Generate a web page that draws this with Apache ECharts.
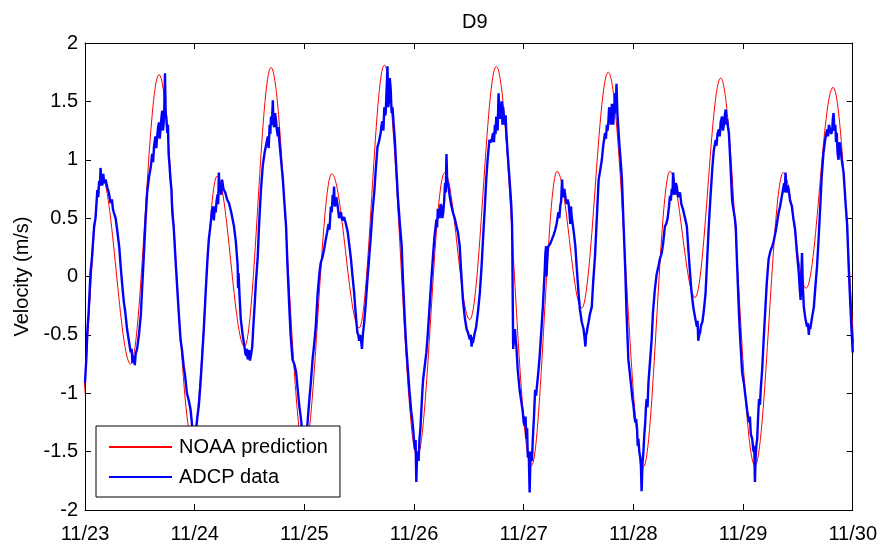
<!DOCTYPE html>
<html>
<head>
<meta charset="utf-8">
<script src="https://cdn.jsdelivr.net/npm/echarts@6/dist/echarts.min.js"></script>
<style>html,body{margin:0;padding:0;background:#fff}#c{width:880px;height:548px}</style>
</head>
<body>
<div id="c"></div>
<script>
// ---- data (x in hours since 11/23 00:00, velocity in m/s) ----
const xTickLabels = ['11/23', '11/24', '11/25', '11/26', '11/27', '11/28', '11/29', '11/30'];
const yTickLabels = ['-2', '-1.5', '-1', '-0.5', '0', '0.5', '1', '1.5', '2'];

// NOAA prediction: turning points (max flood / max ebb)
const redHours = [-8.5, -1.5, 3.6, 10.0, 16.2, 23.5, 28.9, 34.9, 40.7, 48.0, 54.0, 60.0, 65.5, 72.7, 78.7, 84.2, 90.0, 97.7, 103.3, 108.7, 114.5, 122.2, 128.0, 133.5, 139.1, 146.6, 152.8, 157.8, 163.7, 171.0, 177.0];
const redVel   = [1.7, -1.3, 0.86, -0.75, 1.73, -1.4, 0.86, -0.6, 1.79, -1.5, 0.88, -0.44, 1.81, -1.54, 0.89, -0.37, 1.80, -1.62, 0.90, -0.27, 1.75, -1.63, 0.90, -0.18, 1.70, -1.62, 0.89, -0.10, 1.62, -1.6, 0.9];

const adcpPoints = [
[0.0,-0.91],[0.3,-0.7],[0.5,-0.48],[0.8,-0.3],[1.2,0.03],[1.5,0.15],[2.0,0.43],[2.3,0.5],[2.7,0.74],[2.9,0.68],[3.1,0.82],[3.3,0.78],[3.4,0.93],[3.6,0.8],[3.8,0.78],[4.0,0.88],[4.2,0.8],[4.5,0.83],[4.9,0.76],[5.2,0.72],[5.6,0.63],[5.9,0.66],[6.1,0.58],[6.3,0.55],[6.7,0.5],[7.1,0.38],[7.5,0.25],[7.8,0.09],[8.1,-0.05],[8.5,-0.22],[8.8,-0.3],[9.2,-0.45],[9.6,-0.55],[10.0,-0.65],[10.2,-0.62],[10.4,-0.74],[10.7,-0.68],[10.9,-0.76],[11.1,-0.66],[11.4,-0.62],[11.8,-0.5],[12.2,-0.34],[12.5,-0.1],[12.9,0.2],[13.2,0.45],[13.6,0.72],[14.0,0.85],
[14.4,0.94],[14.7,1.05],[14.9,0.98],[15.1,1.11],[15.4,1.2],[15.6,1.1],[15.8,1.2],[16.0,1.28],[16.2,1.32],[16.35,1.18],[16.5,1.25],[16.7,1.35],[16.9,1.42],[17.05,1.25],[17.2,1.3],[17.35,1.45],[17.5,1.74],[17.65,1.4],[17.8,1.36],[18.0,1.23],[18.15,1.3],[18.3,1.05],[18.5,0.95],[18.7,0.83],[18.9,0.75],[19.1,0.55],[19.4,0.43],[19.8,0.15],[20.2,-0.11],[20.5,-0.3],[20.9,-0.54],[21.2,-0.62],[21.6,-0.77],[21.9,-0.85],[22.3,-1.0],[22.7,-1.06],[23.1,-1.14],[23.5,-1.3],[23.9,-1.45],[24.3,-1.32],[24.6,-1.2],[24.9,-1.11],[25.3,-0.9],[25.6,-0.71],[26.0,-0.45],[26.4,-0.14],[26.8,0.15],[27.1,0.32],[27.5,0.45],[27.8,0.57],[28.0,0.6],[28.2,0.48],[28.4,0.6],[28.6,0.55],[28.8,0.65],[29.0,0.7],[29.15,0.62],[29.3,0.89],[29.45,0.72],[29.6,0.78],[29.8,0.7],[30.0,0.83],[30.3,0.75],[30.7,0.72],[31.1,0.66],[31.5,0.63],[32.0,0.55],[32.6,0.43],[33.0,0.3],[33.4,0.1],[33.5,-0.1],[33.6,0.03],[33.8,-0.15],[34.1,-0.37],[34.5,-0.5],[34.9,-0.6],[35.1,-0.66],[35.3,-0.68],[35.45,-0.62],[35.6,-0.71],[35.9,-0.63],[36.1,-0.72],[36.3,-0.68],[36.6,-0.6],[36.8,-0.45],[37.1,-0.26],[37.4,-0.05],[37.8,0.17],[38.1,0.45],[38.5,0.74],[38.9,0.95],[39.3,1.06],[39.6,1.12],[40.0,1.2],[40.2,1.1],[40.4,1.3],[40.55,1.22],[40.7,1.37],[40.9,1.3],[41.1,1.51],[41.25,1.3],[41.4,1.28],[41.6,1.4],[41.8,1.34],[42.0,1.25],[42.2,1.2],[42.35,1.28],[42.5,1.17],[42.9,1.0],[43.3,0.83],[43.6,0.65],[44.0,0.43],[44.3,0.1],[44.7,-0.26],[45.0,-0.5],[45.4,-0.71],[45.8,-0.75],[46.2,-0.82],[46.5,-0.95],[46.9,-1.11],[47.2,-1.2],[47.6,-1.35],[48.1,-1.55],[48.6,-1.3],[49.1,-1.05],[49.4,-0.92],[49.8,-0.71],[50.1,-0.6],[50.5,-0.43],[50.9,-0.15],[51.3,0.03],[51.6,0.12],[52.0,0.17],[52.4,0.25],[52.7,0.32],[53.0,0.38],[53.3,0.45],[53.5,0.4],[53.8,0.6],[54.0,0.55],[54.2,0.7],[54.35,0.62],[54.5,0.77],[54.65,0.6],[54.8,0.62],[55.0,0.68],[55.3,0.6],[55.6,0.5],[56.0,0.55],[56.3,0.48],[56.7,0.51],[57.1,0.45],[57.5,0.38],[57.8,0.28],[58.2,0.15],[58.5,0.02],[58.9,-0.14],[59.2,-0.3],[59.6,-0.48],[59.8,-0.5],[60.0,-0.55],[60.2,-0.5],[60.4,-0.54],[60.6,-0.62],[60.8,-0.5],[61.1,-0.39],[61.4,-0.25],[61.8,-0.03],[62.1,0.12],[62.5,0.32],[62.9,0.55],[63.3,0.72],[63.6,0.9],[64.0,1.11],[64.3,1.15],[64.7,1.23],[64.9,1.3],[65.1,1.33],[65.3,1.25],[65.5,1.45],[65.65,1.38],[65.8,1.4],[66.0,1.6],[66.2,1.8],[66.35,1.45],[66.5,1.5],[66.7,1.7],[66.9,1.6],[67.1,1.4],[67.3,1.45],[67.55,1.3],[67.8,1.17],[68.1,0.95],[68.5,0.66],[68.9,0.45],[69.3,0.26],[69.6,-0.05],[70.0,-0.39],[70.3,-0.6],[70.7,-0.82],[71.0,-0.98],[71.4,-1.16],[71.6,-1.22],[71.8,-1.3],[72.0,-1.4],[72.2,-1.48],[72.35,-1.4],[72.5,-1.76],[72.65,-1.55],[72.8,-1.5],[73.0,-1.58],[73.2,-1.39],[73.4,-1.3],[73.6,-1.15],[73.8,-1.0],[74.0,-0.88],[74.3,-0.78],[74.7,-0.65],[75.0,-0.5],[75.4,-0.26],[75.8,-0.02],[76.2,0.2],[76.5,0.35],[76.9,0.49],[77.05,0.42],[77.2,0.58],[77.4,0.52],[77.6,0.5],[77.8,0.62],[78.0,0.6],[78.2,0.5],[78.4,0.55],[78.6,0.65],[78.8,0.8],[78.95,0.72],[79.1,1.05],[79.25,0.82],[79.4,0.8],[79.6,0.75],[79.8,0.69],[80.1,0.62],[80.5,0.55],[80.9,0.5],[81.3,0.43],[81.6,0.38],[82.0,0.26],[82.3,0.05],[82.7,-0.2],[83.1,-0.35],[83.5,-0.45],[83.8,-0.48],[84.2,-0.54],[84.4,-0.5],[84.6,-0.6],[84.75,-0.52],[84.9,-0.57],[85.2,-0.5],[85.6,-0.43],[86.0,-0.3],[86.4,-0.14],[86.8,0.1],[87.1,0.32],[87.5,0.6],[87.8,0.83],[88.1,1.0],[88.5,1.17],[88.9,1.15],[89.3,1.23],[89.5,1.15],[89.7,1.3],[89.85,1.22],[90.0,1.37],[90.15,1.28],[90.3,1.25],[90.5,1.57],[90.7,1.4],[90.9,1.35],[91.05,1.45],[91.2,1.5],[91.35,1.3],[91.5,1.45],[91.7,1.35],[91.9,1.3],[92.05,1.38],[92.2,1.23],[92.5,1.05],[92.9,0.83],[93.1,0.72],[93.3,0.6],[93.45,0.45],[93.5,0.3],[93.6,-0.2],[93.7,-0.62],[93.9,-0.5],[94.1,-0.45],[94.25,-0.55],[94.4,-0.6],[94.7,-0.8],[95.1,-0.97],[95.4,-1.05],[95.8,-1.16],[96.0,-1.25],[96.2,-1.28],[96.4,-1.2],[96.6,-1.39],[96.75,-1.3],[96.9,-1.55],[97.1,-1.5],[97.3,-1.85],[97.45,-1.6],[97.6,-1.5],[97.8,-1.58],[98.0,-1.39],[98.25,-1.2],[98.5,-0.97],[98.7,-1.02],[99.0,-0.9],[99.2,-0.82],[99.5,-0.68],[99.8,-0.5],[100.2,-0.26],[100.4,-0.1],[100.6,0.05],[100.75,0.2],[100.9,0.26],[101.0,0.0],[101.1,0.1],[101.25,0.22],[101.4,0.26],[101.8,0.28],[102.2,0.32],[102.5,0.35],[102.9,0.4],[103.2,0.45],[103.6,0.55],[103.8,0.5],[104.0,0.6],[104.2,0.65],[104.4,0.83],[104.55,0.68],[104.7,0.7],[104.9,0.75],[105.1,0.69],[105.4,0.62],[105.6,0.66],[105.8,0.63],[106.0,0.55],[106.2,0.45],[106.35,0.6],[106.5,0.51],[106.9,0.4],[107.3,0.26],[107.6,0.08],[108.0,-0.14],[108.3,-0.28],[108.7,-0.39],[108.9,-0.42],[109.1,-0.45],[109.3,-0.52],[109.5,-0.6],[109.65,-0.5],[109.8,-0.48],[110.0,-0.43],[110.2,-0.39],[110.5,-0.32],[110.9,-0.26],[111.2,-0.05],[111.6,0.17],[112.0,0.5],[112.4,0.83],[112.7,0.9],[113.1,1.0],[113.4,1.12],[113.8,1.23],[114.0,1.18],[114.2,1.3],[114.35,1.25],[114.5,1.31],[114.7,1.45],[114.9,1.4],[115.1,1.3],[115.3,1.48],[115.45,1.35],[115.6,1.3],[115.8,1.45],[116.0,1.57],[116.15,1.4],[116.3,1.65],[116.5,1.4],[116.7,1.28],[116.9,1.15],[117.1,1.05],[117.3,0.95],[117.5,0.83],[117.8,0.5],[118.2,0.09],[118.5,-0.3],[118.9,-0.71],[119.2,-0.82],[119.6,-0.97],[119.8,-1.05],[120.0,-1.1],[120.2,-1.18],[120.4,-1.25],[120.6,-1.22],[120.8,-1.3],[120.95,-1.45],[121.1,-1.39],[121.3,-1.5],[121.5,-1.55],[121.65,-1.62],[121.8,-1.84],[122.0,-1.6],[122.2,-1.5],[122.4,-1.35],[122.6,-1.25],[122.75,-1.12],[122.9,-1.05],[123.1,-1.12],[123.3,-0.91],[123.6,-0.75],[124.0,-0.54],[124.3,-0.3],[124.7,-0.11],[125.1,0.02],[125.5,0.09],[125.8,0.15],[126.2,0.2],[126.5,0.28],[126.9,0.43],[127.2,0.45],[127.5,0.5],[127.8,0.6],[128.0,0.69],[128.2,0.65],[128.4,0.75],[128.55,0.7],[128.7,0.89],[128.9,0.78],[129.1,0.7],[129.3,0.8],[129.5,0.77],[129.8,0.68],[130.2,0.72],[130.5,0.62],[130.9,0.57],[131.3,0.5],[131.7,0.43],[132.0,0.25],[132.4,0.03],[132.7,-0.12],[133.1,-0.26],[133.5,-0.35],[133.9,-0.43],[134.05,-0.38],[134.2,-0.55],[134.4,-0.5],[134.6,-0.48],[134.8,-0.42],[135.1,-0.39],[135.4,-0.3],[135.8,-0.14],[136.1,0.1],[136.5,0.43],[136.9,0.7],[137.3,0.94],[137.6,1.08],[138.0,1.17],[138.2,1.12],[138.4,1.22],[138.7,1.26],[138.9,1.2],[139.1,1.32],[139.4,1.37],[139.6,1.25],[139.8,1.3],[140.0,1.38],[140.2,1.43],[140.35,1.3],[140.5,1.35],[140.7,1.28],[140.9,1.23],[141.2,1.0],[141.6,0.66],[141.8,0.6],[142.0,0.55],[142.2,0.5],[142.4,0.43],[142.7,0.1],[143.1,-0.31],[143.4,-0.55],[143.8,-0.82],[144.2,-0.92],[144.6,-1.05],[144.9,-1.15],[145.3,-1.25],[145.5,-1.2],[145.7,-1.35],[146.0,-1.39],[146.15,-1.45],[146.3,-1.5],[146.45,-1.45],[146.6,-1.76],[146.75,-1.55],[146.9,-1.45],[147.1,-1.39],[147.3,-1.2],[147.5,-1.05],[147.7,-1.1],[147.9,-0.95],[148.2,-0.79],[148.5,-0.55],[148.9,-0.26],[149.2,-0.05],[149.6,0.15],[150.0,0.22],[150.4,0.26],[150.7,0.3],[151.1,0.38],[151.4,0.45],[151.8,0.55],[152.1,0.6],[152.5,0.69],[152.8,0.7],[153.0,0.8],[153.15,0.72],[153.3,0.89],[153.45,0.75],[153.6,0.72],[153.8,0.78],[154.0,0.74],[154.3,0.65],[154.7,0.6],[155.0,0.5],[155.4,0.4],[155.8,0.2],[156.2,0.03],[156.4,-0.1],[156.6,-0.2],[156.75,0.0],[156.9,0.2],[157.1,-0.1],[157.3,-0.26],[157.6,-0.35],[158.0,-0.43],[158.2,-0.4],[158.4,-0.5],[158.55,-0.42],[158.7,-0.45],[159.1,-0.35],[159.5,-0.26],[159.8,-0.1],[160.2,0.09],[160.5,0.3],[160.9,0.6],[161.2,0.85],[161.6,1.06],[162.0,1.18],[162.4,1.26],[162.6,1.2],[162.8,1.3],[163.1,1.31],[163.3,1.22],[163.5,1.25],[163.65,1.35],[163.8,1.40],[164.0,1.25],[164.2,1.3],[164.35,1.15],[164.5,1.23],[164.7,1.05],[164.9,1.0],[165.1,1.15],[165.3,1.11],[165.6,1.0],[166.0,0.89],[166.4,0.65],[166.8,0.43],[167.1,0.1],[167.5,-0.26],[167.8,-0.5],[168.0,-0.65]
];

const FONT = "'Liberation Sans', Arial, Helvetica, sans-serif";

const redData = redHours.map((h, i) => [h, redVel[i]]);
const blueData = adcpPoints.slice().sort((a, b) => a[0] - b[0]);

const chart = echarts.init(document.getElementById('c'), null, {renderer: 'canvas'});

const axisCommon = {
  axisLine: {show: true, onZero: false, lineStyle: {color: '#000', width: 1}},
  axisTick: {show: true, inside: true, length: 6, lineStyle: {color: '#000', width: 1}},
  splitLine: {show: false}
};

chart.setOption({
  animation: false,
  backgroundColor: '#fff',
  title: {
    text: 'D9',
    left: 457,
    top: 7,
    textStyle: {fontSize: 20, fontWeight: 'normal', color: '#000', fontFamily: FONT}
  },
  legend: {
    orient: 'vertical',
    left: 96,
    top: 426,
    padding: [11, 12, 10, 12],
    itemGap: 10,
    itemWidth: 63,
    itemHeight: 14,
    backgroundColor: '#fff',
    borderColor: '#000',
    borderWidth: 1,
    itemStyle: {opacity: 0},
    textStyle: {fontSize: 20, color: '#000', fontFamily: FONT, padding: [0, 0, 0, 2]},
    data: ['NOAA prediction', 'ADCP data']
  },
  grid: {left: 85, right: 26, top: 43, bottom: 38, containLabel: false},
  xAxis: [
    Object.assign({
      type: 'value', min: 0, max: 168, interval: 24, position: 'bottom',
      axisLabel: {
        formatter: v => xTickLabels[Math.round(v / 24)],
        fontSize: 20, color: '#000', fontFamily: FONT, margin: 14
      }
    }, axisCommon),
    Object.assign({
      type: 'value', min: 0, max: 168, interval: 24, position: 'top',
      axisLabel: {show: false}
    }, axisCommon)
  ],
  yAxis: [
    Object.assign({
      type: 'value', min: -2, max: 2, interval: 0.5, position: 'left',
      name: 'Velocity (m/s)', nameLocation: 'middle', nameGap: 53,
      nameTextStyle: {fontSize: 20, color: '#000', fontFamily: FONT},
      axisLabel: {
        formatter: v => yTickLabels[Math.round((v + 2) / 0.5)],
        fontSize: 20, color: '#000', fontFamily: FONT, margin: 7
      }
    }, axisCommon),
    Object.assign({
      type: 'value', min: -2, max: 2, interval: 0.5, position: 'right',
      axisLabel: {show: false}
    }, axisCommon)
  ],
  series: [
    {
      name: 'NOAA prediction', type: 'line', data: redData,
      xAxisIndex: 0, yAxisIndex: 0,
      smooth: 0.36, smoothMonotone: 'x', symbol: 'none', clip: true,
      lineStyle: {color: '#ff0000', width: 1}, itemStyle: {color: '#ff0000'}, z: 2
    },
    {
      name: 'ADCP data', type: 'line', data: blueData,
      xAxisIndex: 0, yAxisIndex: 0,
      symbol: 'none', clip: true,
      lineStyle: {color: '#0000ff', width: 2.4}, itemStyle: {color: '#0000ff'}, z: 3
    }
  ]
});
</script>
</body>
</html>
